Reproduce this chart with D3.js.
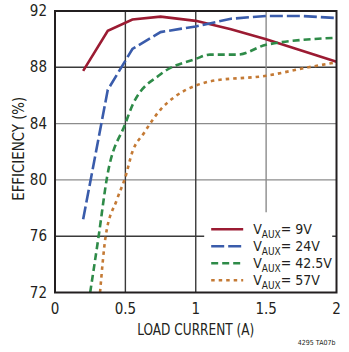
<!DOCTYPE html>
<html>
<head>
<meta charset="utf-8">
<script src="https://cdn.jsdelivr.net/npm/d3@7"></script>
<style>
  body { margin: 0; background: #fff; }
  text { font-family: "Liberation Sans Narrow", "DejaVu Sans Condensed", sans-serif; fill: #231f20; }
</style>
</head>
<body>
<div id="chart"></div>
<script>
// Efficiency vs load current for four VAUX levels
const xTicks = [0, 0.5, 1, 1.5, 2];
const yTicks = [72, 76, 80, 84, 88, 92];

const v9 = [[0.2, 87.75], [0.375, 90.6], [0.55, 91.4], [0.75, 91.6], [1.0, 91.3], [1.25, 90.7], [1.5, 90.0], [1.75, 89.2], [2.0, 88.4]];
const v24 = [[0.2, 77.2], [0.375, 86.4], [0.55, 89.3], [0.75, 90.5], [0.9, 90.75], [1.0, 90.9], [1.25, 91.45], [1.5, 91.65], [1.75, 91.65], [2.0, 91.5]];
const v42 = [[0.25, 72.0], [0.31, 76.0], [0.37, 80.2], [0.5, 84.0], [0.55, 85.3], [0.75, 87.5], [1.0, 88.6], [1.1, 88.9], [1.3, 88.9], [1.5, 89.6], [2.0, 90.1]];
const v57 = [[0.32, 72.0], [0.36, 76.0], [0.44, 78.6], [0.5, 80.2], [0.55, 82.0], [0.63, 83.3], [0.75, 85.0], [0.85, 85.9], [1.0, 86.7], [1.1, 87.0], [1.5, 87.4], [1.8, 88.0], [2.0, 88.35]];

const series = [
  {name: "9V", data: v9, color: "#9b1b32", dash: null, curve: d3.curveLinear},
  {name: "24V", data: v24, color: "#3a5cab", dash: "13,4", curve: d3.curveLinear},
  {name: "42.5V", data: v42, color: "#2e8b48", dash: "7,4", curve: d3.curveMonotoneX},
  {name: "57V", data: v57, color: "#c47a35", dash: "3.5,4", curve: d3.curveMonotoneX}
];

const margin = {top: 11, right: 12.5, bottom: 59.5, left: 55},
    width = 349 - margin.left - margin.right,
    height = 352 - margin.top - margin.bottom;

const x = d3.scaleLinear().domain([0, 2]).range([0, width]),
    y = d3.scaleLinear().domain([72, 92]).range([height, 0]);

const svg = d3.select("#chart").append("svg")
    .attr("width", 349)
    .attr("height", 352)
  .append("g")
    .attr("transform", "translate(" + margin.left + "," + margin.top + ")");

// grid
const darkY = [76, 88], darkX = [0.5, 1];
svg.selectAll(".gy").data(yTicks.slice(1, -1)).enter().append("line")
    .attr("x1", 0).attr("x2", width)
    .attr("y1", d => y(d)).attr("y2", d => y(d))
    .attr("stroke", d => darkY.includes(d) ? "#3a3a3a" : "#8c8c8c")
    .attr("stroke-width", 1.4);
svg.selectAll(".gx").data(xTicks.slice(1, -1)).enter().append("line")
    .attr("y1", 0).attr("y2", height)
    .attr("x1", d => x(d)).attr("x2", d => x(d))
    .attr("stroke", d => darkX.includes(d) ? "#3a3a3a" : "#8c8c8c")
    .attr("stroke-width", 1.4);

// lines
svg.append("clipPath").attr("id", "clip")
  .append("rect").attr("width", width).attr("height", height);

const line = d3.line().x(d => x(d[0])).y(d => y(d[1]));

series.forEach(s => {
  svg.append("path")
      .datum(s.data)
      .attr("clip-path", "url(#clip)")
      .attr("fill", "none")
      .attr("stroke", s.color)
      .attr("stroke-width", 2.6)
      .attr("stroke-dasharray", s.dash)
      .attr("d", line.curve(s.curve));
});

// legend
const lg = svg.append("g").attr("transform", "translate(" + x(1.06) + "," + y(77.7) + ")");
lg.append("rect").attr("width", 128).attr("height", 82).attr("fill", "#fff");
series.forEach((s, i) => {
  const row = lg.append("g").attr("transform", "translate(0," + (17 + i * 17) + ")");
  row.append("line")
      .attr("x1", 7).attr("x2", 39)
      .attr("stroke", s.color)
      .attr("stroke-width", 2.6)
      .attr("stroke-dasharray", s.dash);
  const t = row.append("text").attr("x", 49).attr("y", 5).style("font-size", "14px");
  t.append("tspan").text("V");
  t.append("tspan").attr("dy", 4).style("font-size", "10px").text("AUX");
  t.append("tspan").attr("dy", -4).text("= " + s.name);
});

// frame
svg.append("rect")
    .attr("width", width).attr("height", height)
    .attr("fill", "none").attr("stroke", "#231f20").attr("stroke-width", 2);

// axes labels
svg.selectAll(".yl").data(yTicks).enter().append("text")
    .attr("x", -8).attr("y", d => y(d) + 5)
    .attr("text-anchor", "end")
    .style("font-size", "15px")
    .text(d => d);
svg.selectAll(".xl").data(xTicks).enter().append("text")
    .attr("x", d => x(d)).attr("y", height + 21)
    .attr("text-anchor", "middle")
    .style("font-size", "15px")
    .text(d => d);

svg.append("text")
    .attr("x", width / 2).attr("y", height + 42)
    .attr("text-anchor", "middle")
    .attr("textLength", 117).attr("lengthAdjust", "spacingAndGlyphs")
    .style("font-size", "15px")
    .text("LOAD CURRENT (A)");
svg.append("text")
    .attr("transform", "translate(-31," + (height / 2 - 3) + ") rotate(-90)")
    .attr("text-anchor", "middle")
    .attr("textLength", 104).attr("lengthAdjust", "spacingAndGlyphs")
    .style("font-size", "15px")
    .text("EFFICIENCY (%)");
svg.append("text")
    .attr("x", width - 1).attr("y", height + 52)
    .attr("text-anchor", "end")
    .style("font-size", "7px")
    .text("4295 TA07b");
</script>
</body>
</html>
